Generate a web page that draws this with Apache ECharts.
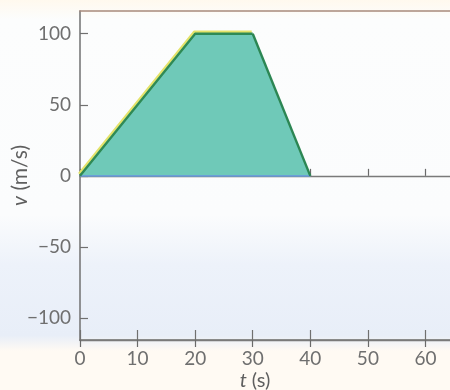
<!DOCTYPE html>
<html>
<head>
<meta charset="utf-8">
<script src="https://cdn.jsdelivr.net/npm/echarts@6/dist/echarts.min.js"></script>
<style>
  html, body { margin: 0; padding: 0; background: #fffdf8; }
  #chart { width: 450px; height: 390px; }
</style>
</head>
<body>
<div id="chart"></div>
<script>
// Velocity profile: speed up, cruise, brake to rest
const times = [0, 20, 30, 40];          // t (s)
const velocities = [0, 100, 100, 0];    // v (m/s)
const yTicks = [-100, -50, 0, 50, 100];
const xTicks = [0, 10, 20, 30, 40, 50, 60];

const pts = times.map((t, i) => [t, velocities[i]]);
const risingAndCruise = pts.slice(0, 3);
const braking = pts.slice(2, 4);
const baseline = [pts[0], pts[pts.length - 1]];

const font = 'Lato, "Open Sans", sans-serif';
const axisGray = '#707070';

function zeroAxis(inside) {
  return {
    type: 'value', min: 0, max: 66, position: 'bottom',
    axisLine: { onZero: true, lineStyle: { color: '#7a7a7a', width: 1.4 } },
    axisTick: { inside: inside, length: 7, customValues: xTicks, lineStyle: { color: '#6a6a6a', width: 1.2 } },
    axisLabel: { show: false }, splitLine: { show: false }
  };
}

const chart = echarts.init(document.getElementById('chart'), null, { renderer: 'canvas' });
chart.setOption({
  animation: false,
  backgroundColor: {
    type: 'linear', x: 0, y: 0, x2: 0, y2: 1,
    colorStops: [
      { offset: 0.00, color: '#fff9ee' },
      { offset: 0.05, color: '#fcfdfd' },
      { offset: 0.55, color: '#fbfcfd' },
      { offset: 0.68, color: '#edf2fa' },
      { offset: 0.86, color: '#e8eef8' },
      { offset: 0.90, color: '#fffaf3' },
      { offset: 1.00, color: '#fffaf3' }
    ]
  },
  grid: { left: 80, right: -10, top: 11, bottom: 50, outerBoundsMode: 'none', containLabel: false },
  xAxis: [
    {
      type: 'value', min: 0, max: 66, position: 'bottom',
      axisLine: { onZero: false, lineStyle: { color: axisGray, width: 1.5 } },
      axisTick: { inside: true, length: 10, customValues: xTicks, lineStyle: { color: axisGray, width: 1.2 } },
      axisLabel: { margin: 9, color: '#6f6f6f', fontFamily: font, fontSize: 19, customValues: xTicks },
      splitLine: { show: false },
      name: '{i|t} (s)', nameLocation: 'middle', nameGap: 31, nameMoveOverlap: false,
      nameTextStyle: {
        color: '#5f5f5f', fontFamily: font, fontSize: 20, padding: [0, 30, 0, 0],
        rich: { i: { fontStyle: 'italic', fontFamily: font, fontSize: 20, color: '#5f5f5f' } }
      }
    },
    {
      // top frame edge
      type: 'value', min: 0, max: 66, position: 'top',
      axisLine: { onZero: false, lineStyle: { color: '#a88a7c', width: 1.6 } },
      axisTick: { show: false }, axisLabel: { show: false }, splitLine: { show: false }
    },
    zeroAxis(true),   // zero line, ticks up
    zeroAxis(false)   // zero line, ticks down
  ],
  yAxis: {
    type: 'value', min: -115.5, max: 116,
    axisLine: { show: true, onZero: false, lineStyle: { color: axisGray, width: 1.5 } },
    axisTick: { show: true, inside: true, length: 8, customValues: yTicks, lineStyle: { color: axisGray, width: 1.2 } },
    axisLabel: {
      margin: 9, color: '#6f6f6f', fontFamily: font, fontSize: 19, customValues: yTicks,
      formatter: v => (v < 0 ? '\u2212' + Math.abs(v) : String(v))
    },
    splitLine: { show: false },
    name: '{i|v} (m/s)', nameLocation: 'middle', nameGap: 49, nameRotate: 90, nameMoveOverlap: false,
    nameTextStyle: {
      color: '#5f5f5f', fontFamily: font, fontSize: 21,
      rich: { i: { fontStyle: 'italic', fontFamily: font, fontSize: 21, color: '#5f5f5f' } }
    }
  },
  series: [
    {
      type: 'line', data: pts, xAxisIndex: 0, symbol: 'none',
      lineStyle: { width: 0 },
      areaStyle: { color: '#6fc9b8', opacity: 1 },
      z: 2
    },
    {
      type: 'line', data: baseline, xAxisIndex: 0, symbol: 'none',
      lineStyle: { color: '#6a9fd8', width: 1.6 }, z: 3
    },
    {
      type: 'line', data: risingAndCruise, xAxisIndex: 0, symbol: 'none',
      lineStyle: {
        color: '#2f8a55', width: 2.4,
        shadowColor: '#e4e36a', shadowBlur: 0, shadowOffsetX: -1, shadowOffsetY: -2
      },
      z: 4
    },
    {
      type: 'line', data: braking, xAxisIndex: 0, symbol: 'none',
      lineStyle: { color: '#2c8653', width: 2.4 }, z: 4
    }
  ]
});
</script>
</body>
</html>
